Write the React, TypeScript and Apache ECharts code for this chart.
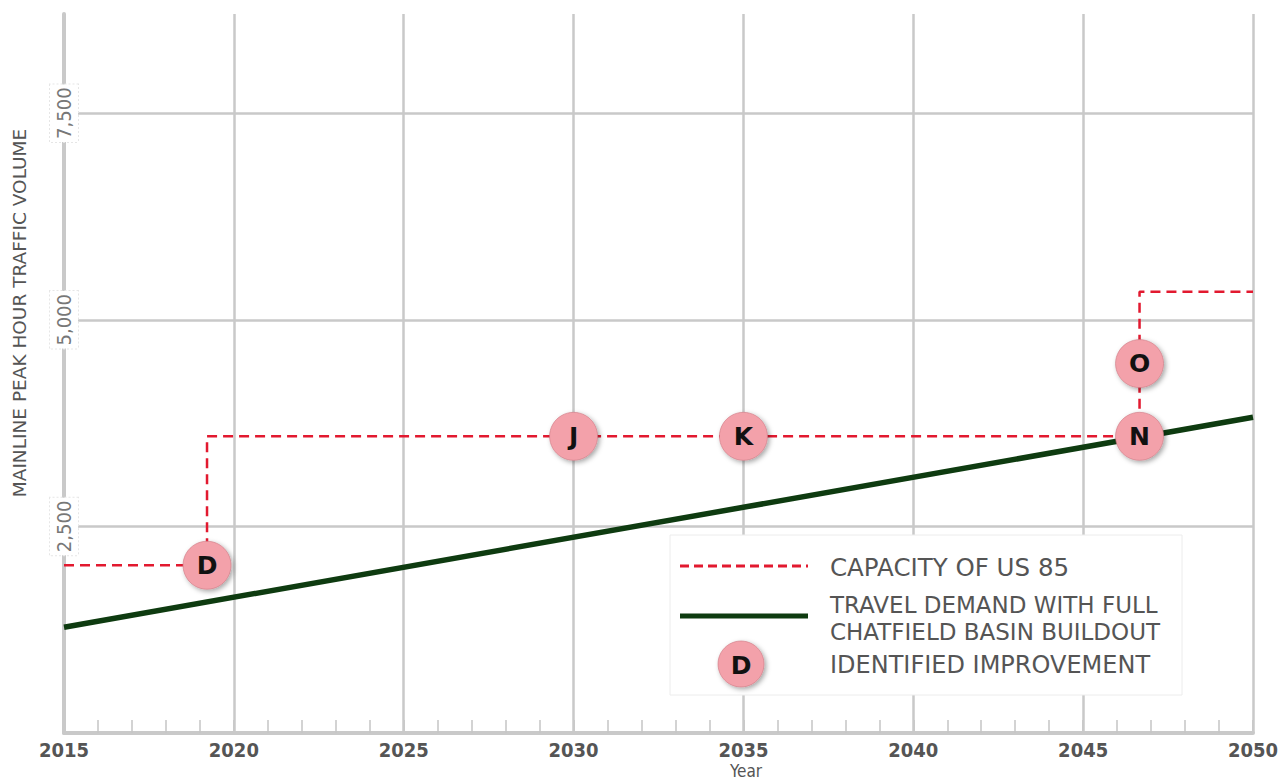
import React, { useEffect, useRef } from "react";
import * as echarts from "echarts";

const demandYears = [2015, 2050];
const demandValues = [1280, 3820];

const capacityYears = [2015, 2019.21, 2019.21, 2046.66, 2046.66, 2050];
const capacityValues = [2030, 2030, 3590, 3590, 5340, 5340];

const improvementYears = [2019.21, 2030, 2035, 2046.66, 2046.66];
const improvementValues = [2030, 3590, 3590, 3590, 4470];
const improvementLabels = ["D", "J", "K", "N", "O"];

const legendLabels = [
  "CAPACITY OF US 85",
  "TRAVEL DEMAND WITH FULL",
  "CHATFIELD BASIN BUILDOUT",
  "IDENTIFIED IMPROVEMENT",
];

const RED = "#E2192F";
const GREEN = "#0E3B10";
const PINK = "#F3A1AA";
const GRID = "#c9c9c9";
const CONDENSED = "'DejaVu Sans Condensed', 'DejaVu Sans', sans-serif";
const SANS = "'DejaVu Sans', sans-serif";

export default function App() {
  const ref = useRef<HTMLDivElement>(null);
  useEffect(() => {
    document.body.style.margin = "0";
    const chart = echarts.init(ref.current!, undefined, { renderer: "svg" });
    const option: any = {
      animation: false,
      backgroundColor: "#fff",
      grid: { left: 64, right: 33, top: 14, bottom: 49 },
      xAxis: {
        type: "value",
        min: 2015,
        max: 2050,
        interval: 5,
        axisLine: { show: true, lineStyle: { color: GRID, width: 4 } },
        axisTick: { show: true, inside: true, length: 13, lineStyle: { color: GRID, width: 2 } },
        minorTick: { show: true, splitNumber: 5, length: 13, lineStyle: { color: "#c4c4c4", width: 1.5 } },
        axisLabel: {
          margin: 7,
          color: "#555",
          fontFamily: CONDENSED,
          fontWeight: "bold",
          fontSize: 20,
          formatter: (v: number) => String(v),
        },
        splitLine: { show: true, showMinLine: false, lineStyle: { color: GRID, width: 2.5 } },
      },
      yAxis: {
        type: "value",
        min: 0,
        max: 8700,
        interval: 2500,
        axisLine: { show: true, lineStyle: { color: GRID, width: 4 } },
        axisTick: { show: false },
        axisLabel: {
          rotate: 90,
          margin: -14,
          color: "#777",
          fontFamily: CONDENSED,
          fontSize: 20,
          backgroundColor: "#fff",
          borderColor: "#e6e6e6",
          borderWidth: 1,
          borderType: "dotted",
          padding: [4, 3, 4, 3],
          showMinLabel: false,
          showMaxLabel: false,
          formatter: (v: number) => (v === 0 || v % 2500 !== 0 ? "" : v.toLocaleString("en-US")),
        },
        splitLine: { show: true, showMinLine: false, showMaxLine: false, lineStyle: { color: GRID, width: 2.5 } },
      },
      series: [
        {
          type: "line",
          name: "demand",
          data: demandYears.map((y, i) => [y, demandValues[i]]),
          symbol: "none",
          lineStyle: { color: GREEN, width: 5.5 },
          z: 3,
        },
        {
          type: "line",
          name: "capacity",
          data: capacityYears.map((y, i) => [y, capacityValues[i]]),
          symbol: "none",
          lineStyle: { color: RED, width: 2.5, type: [10, 6] },
          z: 4,
        },
        {
          type: "scatter",
          name: "improvements",
          data: improvementYears.map((y, i) => ({ value: [y, improvementValues[i]], name: improvementLabels[i] })),
          symbol: "circle",
          symbolSize: 48,
          itemStyle: {
            color: PINK,
            borderColor: "rgba(205,120,130,0.6)",
            borderWidth: 1,
            shadowBlur: 5,
            shadowColor: "rgba(0,0,0,0.35)",
            shadowOffsetX: 2,
            shadowOffsetY: 2,
            opacity: 1,
          },
          label: {
            show: true,
            position: "inside",
            formatter: "{b}",
            color: "#111",
            fontFamily: SANS,
            fontWeight: "bold",
            fontSize: 25,
          },
          z: 6,
        },
      ],
      graphic: [
        {
          type: "text",
          z: 10,
          x: 19,
          y: 313,
          rotation: Math.PI / 2,
          style: {
            text: "MAINLINE PEAK HOUR TRAFFIC VOLUME",
            fill: "#555",
            font: `18.5px ${SANS}`,
            align: "center",
            verticalAlign: "middle",
          },
        },
        {
          type: "text",
          z: 10,
          x: 746,
          y: 771,
          style: {
            text: "Year",
            fill: "#555",
            font: `17px ${CONDENSED}`,
            align: "center",
            verticalAlign: "middle",
          },
        },
        {
          type: "rect",
          z: 10,
          shape: { x: 670, y: 535, width: 512, height: 160 },
          style: { fill: "#fff", stroke: "#ececec", lineWidth: 1 },
        },
        {
          type: "line",
          z: 11,
          shape: { x1: 680, y1: 566, x2: 808, y2: 566 },
          style: { stroke: RED, lineWidth: 3, lineDash: [9, 5] },
        },
        {
          type: "line",
          z: 11,
          shape: { x1: 680, y1: 616, x2: 808, y2: 616 },
          style: { stroke: GREEN, lineWidth: 5 },
        },
        {
          type: "circle",
          z: 11,
          shape: { cx: 741, cy: 664, r: 23 },
          style: {
            fill: PINK,
            stroke: "rgba(205,120,130,0.6)",
            lineWidth: 1,
            shadowBlur: 5,
            shadowColor: "rgba(0,0,0,0.35)",
            shadowOffsetX: 2,
            shadowOffsetY: 2,
          },
        },
        {
          type: "text",
          z: 12,
          x: 741,
          y: 665,
          style: { text: "D", fill: "#111", font: `bold 25px ${SANS}`, align: "center", verticalAlign: "middle" },
        },
        {
          type: "text",
          z: 11,
          x: 830,
          y: 567,
          style: { text: legendLabels[0], fill: "#555", font: `24.5px ${SANS}`, align: "left", verticalAlign: "middle" },
        },
        {
          type: "text",
          z: 11,
          x: 830,
          y: 605,
          style: { text: legendLabels[1], fill: "#555", font: `23px ${SANS}`, align: "left", verticalAlign: "middle" },
        },
        {
          type: "text",
          z: 11,
          x: 830,
          y: 632,
          style: { text: legendLabels[2], fill: "#555", font: `23px ${SANS}`, align: "left", verticalAlign: "middle" },
        },
        {
          type: "text",
          z: 11,
          x: 830,
          y: 665,
          style: { text: legendLabels[3], fill: "#555", font: `24px ${SANS}`, align: "left", verticalAlign: "middle" },
        },
      ],
    };
    chart.setOption(option);
    return () => chart.dispose();
  }, []);
  return (
    <div
      ref={ref}
      style={{ position: "absolute", left: 0, top: 0, width: 1286, height: 782 }}
    />
  );
}
